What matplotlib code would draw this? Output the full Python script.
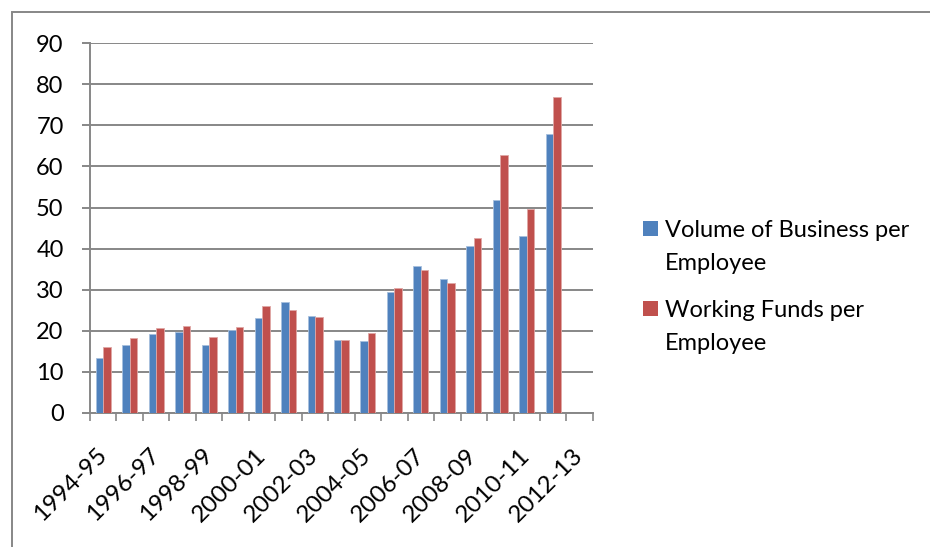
import matplotlib
matplotlib.use("Agg")
import matplotlib.pyplot as plt
import numpy as np
from matplotlib.patches import Rectangle

plt.rcParams['font.family'] = ['Lato', 'DejaVu Sans']

years = ["1994-95", "1995-96", "1996-97", "1997-98", "1998-99", "1999-00", "2000-01",
         "2001-02", "2002-03", "2003-04", "2004-05", "2005-06", "2006-07", "2007-08",
         "2008-09", "2009-10", "2010-11", "2011-12", "2012-13"]
volume_business = [13.4, 16.5, 19.2, 19.6, 16.5, 20.1, 23.1, 26.9, 23.5, 17.8,
                   17.4, 29.5, 35.8, 32.7, 40.6, 51.8, 43.1, 67.8, np.nan]
working_funds = [16.1, 18.2, 20.8, 21.2, 18.5, 20.9, 26.0, 25.1, 23.4, 17.8,
                 19.5, 30.4, 34.9, 31.6, 42.6, 62.7, 49.6, 76.9, np.nan]
series_names = ["Volume of Business per\nEmployee", "Working Funds per\nEmployee"]
colors = ["#4F81BD", "#C0504D"]

W, H = 930, 547
fig = plt.figure(figsize=(W/100, H/100), dpi=100)
ax = fig.add_axes([0.0968, 0.245, 0.5408, 0.676])

x = np.arange(len(years))
w = 0.283
ax.bar(x - w/2, volume_business, width=w, color=colors[0], label=series_names[0],
       edgecolor="#A7C0DE", linewidth=0.6, zorder=3)
ax.bar(x + w/2, working_funds, width=w, color=colors[1], label=series_names[1],
       edgecolor="#DFA7A6", linewidth=0.6, zorder=3)

ax.set_xlim(-0.5, len(years) - 0.5)
ax.set_ylim(0, 90)
ax.set_yticks(np.arange(0, 91, 10))
ax.yaxis.grid(True, color="#878787", linewidth=1.4, zorder=0)
ax.tick_params(axis='y', length=6, width=1.4, color="#878787", pad=13, labelsize=17)

ax.set_xticks(np.arange(-0.5, len(years), 1), minor=True)
ax.set_xticks(x[::2])
ax.set_xticklabels(years[::2], rotation=45, ha='right', va='center',
                   rotation_mode='anchor', fontsize=17.5)
ax.tick_params(axis='x', which='major', length=0, pad=28)
ax.tick_params(axis='x', which='minor', length=6, width=1.2, color="#878787", direction='out')

for s in ['top', 'right']:
    ax.spines[s].set_visible(False)
for s in ['left', 'bottom']:
    ax.spines[s].set_color("#878787")
    ax.spines[s].set_linewidth(1.4)

# legend (square aligned with first text line, as in the original)
leg_y = [228, 308]
for name, col, yy in zip(series_names, colors, leg_y):
    fig.patches.append(Rectangle((643/W, 1 - (yy + 7.5)/H), 15/W, 15/H,
                                 transform=fig.transFigure, facecolor=col, edgecolor='none'))
    fig.text(665/W, 1 - (yy - 8)/H, name, fontsize=17, ha='left', va='top',
             linespacing=1.7, transform=fig.transFigure)

fig.patches.append(Rectangle((12/W, -0.01), 1.0, 1 - 12/H + 0.01, transform=fig.transFigure,
                             fill=False, edgecolor="#878787", linewidth=1.4))

fig.savefig("out.png", dpi=100)
